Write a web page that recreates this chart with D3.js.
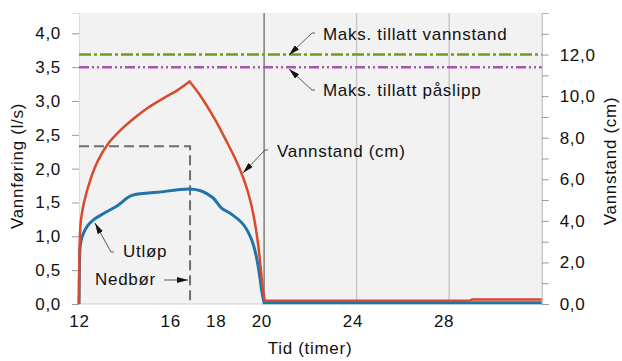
<!DOCTYPE html>
<html>
<head>
<meta charset="utf-8">
<script src="https://cdnjs.cloudflare.com/ajax/libs/d3/7.8.5/d3.min.js"></script>
<style>
  body { margin: 0; background: #fff; }
  text { font-family: "Liberation Sans", Arial, sans-serif; fill: #111; }
</style>
</head>
<body>
<svg id="chart" width="622" height="361"></svg>
<script>
// data
const xTicks = [12, 16, 18, 20, 24, 28];
const xGrid = [24, 28];
const xMark = 20;

const utlopTime = [12.00, 12.02, 12.05, 12.14, 12.36, 12.65, 13.08, 13.69, 14.26, 15.39, 16.78, 17.29, 17.79, 18.15, 18.58, 19.09, 19.45, 19.66, 19.81, 19.91, 20.00, 32.00];
const utlopValue = [0, 0.55, 0.85, 1.00, 1.15, 1.25, 1.34, 1.46, 1.60, 1.65, 1.70, 1.67, 1.57, 1.42, 1.33, 1.18, 0.96, 0.71, 0.41, 0.17, 0.02, 0.02];

const vannstandTime = [12.00, 12.01, 12.03, 12.08, 12.22, 12.53, 12.82, 13.25, 13.83, 14.41, 14.98, 15.70, 16.28, 16.78, 17.29, 17.87, 18.37, 18.80, 19.09, 19.30, 19.52, 19.74, 19.95, 20.03, 28.90, 29.00, 32.00];
const vannstandValue = [0, 1.5, 2.9, 4.0, 4.9, 6.1, 6.9, 7.7, 8.4, 8.96, 9.44, 9.93, 10.30, 10.70, 9.95, 8.89, 7.84, 6.88, 6.1, 5.4, 4.4, 2.9, 0.71, 0.16, 0.16, 0.22, 0.22];

const nedborTime = [12, 16.8, 16.8];
const nedborValue = [2.33, 2.33, 0];

const maksVannstand = 12.0;   // cm, right axis
const maksPaslipp = 3.5;      // l/s, left axis

const labels = {
  vannstand: "Maks. tillatt vannstand",
  paslipp: "Maks. tillatt påslipp",
  vannstandLine: "Vannstand (cm)",
  utlop: "Utløp",
  nedbor: "Nedbør",
  yLeft: "Vannføring (l/s)",
  yRight: "Vannstand (cm)",
  x: "Tid (timer)"
};

const svg = d3.select("#chart");
const pLeft = 79, pRight = 541.7, pTop = 13, pBottom = 304;
const fs = 17, ls = "0.7px";

const x = d3.scaleLinear().domain([12, 32]).range([pLeft, pRight]);
const yL = d3.scaleLinear().domain([0, 4.3]).range([pBottom, pTop]);
const yR = d3.scaleLinear().domain([0, 14]).range([pBottom, pTop]);
const comma = d => d3.format(".1f")(d).replace(".", ",");

// plot background
svg.append("rect").attr("x", pLeft).attr("y", pTop)
  .attr("width", pRight - pLeft).attr("height", pBottom - pTop)
  .attr("fill", "#f2f2f2");

// grid
svg.append("g").selectAll("line").data(xGrid).enter().append("line")
  .attr("x1", d => x(d)).attr("x2", d => x(d))
  .attr("y1", pTop).attr("y2", pBottom)
  .attr("stroke", "#c8c8c8").attr("stroke-width", 1.5);
svg.append("line")
  .attr("x1", x(xMark)).attr("x2", x(xMark)).attr("y1", pTop).attr("y2", pBottom)
  .attr("stroke", "#444").attr("stroke-width", 1);
svg.append("line")
  .attr("x1", pLeft).attr("x2", pRight).attr("y1", pBottom).attr("y2", pBottom)
  .attr("stroke", "#d0d0d0").attr("stroke-width", 1);

// axes
const gL = svg.append("g").attr("transform", `translate(${pLeft},0)`)
  .call(d3.axisLeft(yL).tickValues(d3.range(0, 4.01, 0.5)).tickFormat(comma).tickSize(7).tickPadding(11));
gL.select(".domain").attr("stroke", "#dcdcdc");

const gR = svg.append("g").attr("transform", `translate(${pRight},0)`)
  .call(d3.axisRight(yR).tickValues(d3.range(0, 14, 1))
    .tickFormat(d => d % 2 === 0 ? comma(d) : "").tickSize(7).tickPadding(11));
gR.select(".domain").attr("stroke", "#b0b0b0");

const gX = svg.append("g").attr("transform", `translate(0,${pBottom})`)
  .call(d3.axisBottom(x).tickValues(xTicks).tickFormat(d3.format("d")).tickSize(0).tickPadding(11));
gX.select(".domain").remove();
gX.selectAll("text").attr("dx", d => -(d - 12) * 0.35);

svg.selectAll(".tick line").attr("stroke", "#9a9a9a");
svg.selectAll(".tick text").attr("font-size", fs).attr("letter-spacing", ls)
  .attr("font-family", "Liberation Sans, Arial, sans-serif").attr("fill", "#111");

// titles
svg.append("text").attr("x", 310).attr("y", 354).attr("text-anchor", "middle")
  .attr("font-size", fs).attr("letter-spacing", ls).text(labels.x);
svg.append("text").attr("transform", "translate(23,166) rotate(-90)").attr("text-anchor", "middle")
  .attr("font-size", fs).attr("letter-spacing", ls).text(labels.yLeft);
svg.append("text").attr("transform", "translate(616,161) rotate(-90)").attr("text-anchor", "middle")
  .attr("font-size", fs).attr("letter-spacing", ls).text(labels.yRight);

// limit lines
svg.append("line").attr("x1", pLeft).attr("x2", pRight)
  .attr("y1", yR(maksVannstand)).attr("y2", yR(maksVannstand))
  .attr("stroke", "#6f9c22").attr("stroke-width", 2.5).attr("stroke-dasharray", "12,3,3,3");
svg.append("line").attr("x1", pLeft).attr("x2", pRight)
  .attr("y1", yL(maksPaslipp)).attr("y2", yL(maksPaslipp))
  .attr("stroke", "#a657ac").attr("stroke-width", 2.5).attr("stroke-dasharray", "10,3,2,3,2,3");

// nedbør
const nedborLine = d3.line().x(d => x(d[0])).y(d => yL(d[1]));
svg.append("path").datum(nedborTime.map((t, i) => [t, nedborValue[i]]))
  .attr("d", nedborLine).attr("fill", "none")
  .attr("stroke", "#6e6e6e").attr("stroke-width", 2).attr("stroke-dasharray", "10,5");

// series: smooth hydrograph, straight tail after t = 20
const curve = d3.curveCatmullRom.alpha(0.5);
const smoothL = d3.line().curve(curve).x(d => x(d[0])).y(d => yL(d[1]));
const straightL = d3.line().x(d => x(d[0])).y(d => yL(d[1]));
const smoothR = d3.line().curve(curve).x(d => x(d[0])).y(d => yR(d[1]));
const straightR = d3.line().x(d => x(d[0])).y(d => yR(d[1]));
const join = (parts) => parts.map((p, i) => i ? p.replace(/^M/, "L") : p).join("");

const uPts = utlopTime.map((t, i) => [t, utlopValue[i]]);
const uEnd = utlopTime.findIndex(t => t >= 20);
svg.append("path")
  .attr("d", join([smoothL(uPts.slice(0, uEnd + 1)), straightL(uPts.slice(uEnd))]))
  .attr("fill", "none").attr("stroke", "#1f74a8").attr("stroke-width", 3);

const vPts = vannstandTime.map((t, i) => [t, vannstandValue[i]]);
const peak = d3.maxIndex(vannstandValue);
const vEnd = vannstandTime.findIndex(t => t >= 20);
svg.append("path")
  .attr("d", join([smoothR(vPts.slice(0, peak + 1)), smoothR(vPts.slice(peak, vEnd + 1)), straightR(vPts.slice(vEnd))]))
  .attr("fill", "none").attr("stroke", "#d84a2b").attr("stroke-width", 2.5);

// annotations
svg.append("defs").append("marker").attr("id", "arr")
  .attr("markerUnits", "userSpaceOnUse").attr("markerWidth", 12).attr("markerHeight", 6)
  .attr("refX", 11).attr("refY", 3).attr("orient", "auto")
  .append("path").attr("d", "M0,0 L11,3 L0,6 Z").attr("fill", "#111");

function arrow(pts) {
  svg.append("path").attr("d", d3.line()(pts)).attr("fill", "none")
    .attr("stroke", "#333").attr("stroke-width", 0.8).attr("marker-end", "url(#arr)");
}
function note(tx, ty, s) {
  svg.append("text").attr("x", tx).attr("y", ty).attr("font-size", fs)
    .attr("letter-spacing", ls).text(s);
}

note(323, 40, labels.vannstand);
arrow([[315, 33], [312, 33], [289, 55]]);
note(323, 96, labels.paslipp);
arrow([[315, 90], [312, 90], [289, 69]]);
note(277, 157, labels.vannstandLine);
arrow([[268, 150], [265, 150], [243, 173]]);
note(123, 257, labels.utlop);
arrow([[114, 252], [111, 252], [95, 223]]);
note(95, 285, labels.nedbor);
arrow([[164, 280], [188, 280]]);
</script>
</body>
</html>
